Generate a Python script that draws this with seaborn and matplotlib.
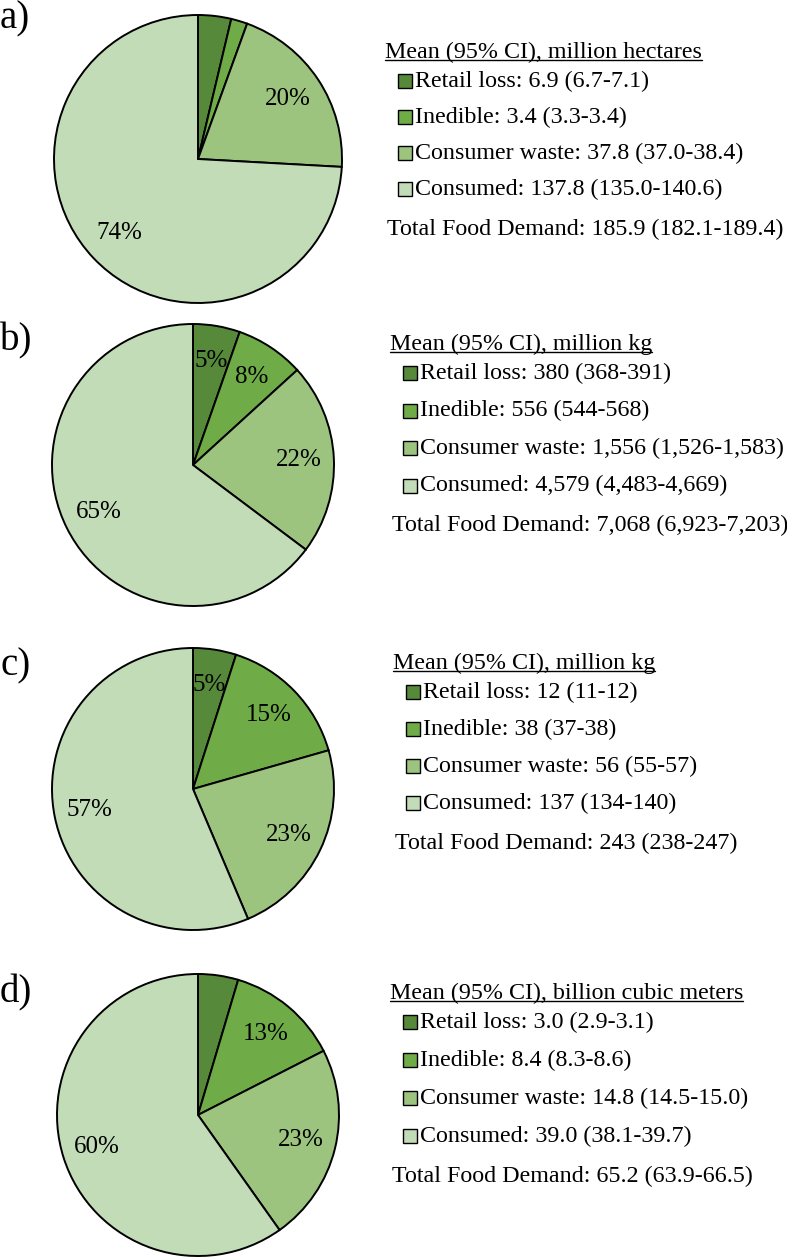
import matplotlib
matplotlib.use("Agg")
import matplotlib.pyplot as plt
from matplotlib.patches import Rectangle
from matplotlib.lines import Line2D
import seaborn as sns

W, H = 787, 1257

# --- data ---
categories = ["Retail loss", "Inedible", "Consumer waste", "Consumed"]
palette = ["#568a3a", "#6fac47", "#9cc47f", "#c2dcb7"]

panel_ids = ["a)", "b)", "c)", "d)"]
units = ["million hectares", "million kg", "million kg", "billion cubic meters"]
fmts = ["{:.1f}", "{:,.0f}", "{:,.0f}", "{:.1f}"]

mean_a = [6.9, 3.4, 37.8, 137.8]
low_a = [6.7, 3.3, 37.0, 135.0]
high_a = [7.1, 3.4, 38.4, 140.6]
total_a = [185.9, 182.1, 189.4]
pct_a = ["", "", "20%", "74%"]

mean_b = [380, 556, 1556, 4579]
low_b = [368, 544, 1526, 4483]
high_b = [391, 568, 1583, 4669]
total_b = [7068, 6923, 7203]
pct_b = ["5%", "8%", "22%", "65%"]

mean_c = [12, 38, 56, 137]
low_c = [11, 37, 55, 134]
high_c = [12, 38, 57, 140]
total_c = [243, 238, 247]
pct_c = ["5%", "15%", "23%", "57%"]

mean_d = [3.0, 8.4, 14.8, 39.0]
low_d = [2.9, 8.3, 14.5, 38.1]
high_d = [3.1, 8.6, 15.0, 39.7]
total_d = [65.2, 63.9, 66.5]
pct_d = ["", "13%", "23%", "60%"]

means = [mean_a, mean_b, mean_c, mean_d]
lows = [low_a, low_b, low_c, low_d]
highs = [high_a, high_b, high_c, high_d]
totals = [total_a, total_b, total_c, total_d]
pcts = [pct_a, pct_b, pct_c, pct_d]

# --- layout (pixels from top-left) ---
pie_cx = [198, 193, 193, 198]
pie_cy = [159, 465, 789, 1115]
pie_r = [144, 141, 141, 141]
letter_y = [0, 322, 647, 974]
title_y = [52, 344, 663, 993]
title_x = [385, 390, 393, 390]
row_gap = [36, 37.5, 37, 38]

sns.set_theme(style="white")
plt.rcParams["font.family"] = ["Liberation Serif", "DejaVu Serif"]
plt.rcParams["text.color"] = "black"
colors = sns.color_palette(palette)

fig = plt.figure(figsize=(W / 100, H / 100), dpi=100)
fig.patch.set_facecolor("white")


def fx(x):
    return x / W


def fy(y):
    return 1 - y / H


titles = []
for i in range(4):
    cx, cy, r = pie_cx[i], pie_cy[i], pie_r[i]
    pad = 3
    ax = fig.add_axes([fx(cx - r - pad), fy(cy + r + pad),
                       (2 * r + 2 * pad) / W, (2 * r + 2 * pad) / H])
    wedges, _, autotexts = ax.pie(
        means[i], colors=colors, startangle=90, counterclock=False,
        autopct=lambda p: "", pctdistance=0.75,
        wedgeprops=dict(edgecolor="black", linewidth=1.4),
        textprops=dict(fontsize=18, color="black"))
    for t, lbl in zip(autotexts, pcts[i]):
        t.set_text(lbl)
    lim = 1 + pad / r
    ax.set_xlim(-lim, lim)
    ax.set_ylim(-lim, lim)
    ax.set_aspect("equal")
    ax.axis("off")

    # panel letter
    fig.text(fx(0), fy(letter_y[i]), panel_ids[i], fontsize=28,
             ha="left", va="top")

    # legend block
    ty = title_y[i]
    tx = title_x[i]
    titles.append(fig.text(fx(tx), fy(ty), f"Mean (95% CI), {units[i]}",
                           fontsize=17.3, ha="left", va="center"))
    fmt = fmts[i]
    row_y = ty + 29
    for k, cat in enumerate(categories):
        yk = row_y + k * row_gap[i]
        s = 14
        mx = tx + 20
        rect = Rectangle((fx(mx - s / 2), fy(yk + s / 2)), s / W, s / H,
                         facecolor=colors[k], edgecolor="black", linewidth=1.0,
                         transform=fig.transFigure)
        fig.add_artist(rect)
        txt = (f"{cat}: {fmt.format(means[i][k])} "
               f"({fmt.format(lows[i][k])}-{fmt.format(highs[i][k])})")
        fig.text(fx(mx + 10), fy(yk), txt, fontsize=17.3, ha="left", va="center")
    tot = totals[i]
    yt = row_y + 3 * row_gap[i] + 40
    fig.text(fx(tx + 2), fy(yt),
             f"Total Food Demand: {fmt.format(tot[0])} "
             f"({fmt.format(tot[1])}-{fmt.format(tot[2])})",
             fontsize=17.3, ha="left", va="center")

# underline the legend titles
fig.canvas.draw()
renderer = fig.canvas.get_renderer()
for t in titles:
    bb = t.get_window_extent(renderer)
    yline = (bb.y0 + 3) / H
    fig.add_artist(Line2D([bb.x0 / W, bb.x1 / W], [yline, yline],
                          color="black", linewidth=1.0,
                          transform=fig.transFigure))

fig.savefig("out.png", dpi=100, facecolor="white")
